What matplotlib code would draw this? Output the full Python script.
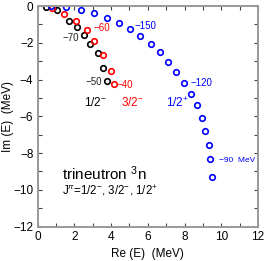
"""
Trineutron resonance trajectories (Re E vs Im E)
"""

import matplotlib.pyplot as plt
from matplotlib.ticker import MultipleLocator

plt.rcParams['font.family'] = ['Liberation Sans', 'DejaVu Sans']
plt.rcParams['mathtext.fontset'] = 'custom'
plt.rcParams['mathtext.rm'] = 'Liberation Sans'
plt.rcParams['mathtext.it'] = 'Liberation Sans:italic'

# 1/2- (black)
re_half_m = [0.46, 1.08, 1.73, 2.14, 2.52, 2.88, 3.31, 3.57, 3.79]
im_half_m = [-0.07, -0.22, -0.80, -1.16, -1.58, -2.09, -2.58, -3.36, -4.09]

# 3/2- (red)
re_three_m = [0.81, 1.46, 2.10, 2.68, 3.10, 3.57, 4.01, 4.17]
im_three_m = [-0.13, -0.45, -0.80, -1.31, -1.89, -2.67, -3.53, -4.27]

# 1/2+ (blue)
re_half_p = [0.74, 1.55, 2.35, 3.08, 3.80, 4.44, 5.04, 5.60, 6.17, 6.66,
             7.11, 7.55, 7.96, 8.34, 8.66, 8.93, 9.13, 9.31, 9.40, 9.49]
im_half_p = [0.0, -0.07, -0.22, -0.40, -0.64, -0.94, -1.27, -1.63, -2.07, -2.52,
             -3.07, -3.61, -4.21, -4.81, -5.36, -6.07, -6.80, -7.54, -8.34, -9.30]

fig = plt.figure(figsize=(2.66, 2.61), dpi=100)
ax = fig.add_axes([0.141, 0.132, 0.829, 0.845])

ms = 4.0
ax.plot(re_half_m, im_half_m, 'o', mfc='none', mec='black', ms=ms, mew=1.2)
ax.plot(re_three_m, im_three_m, 'o', mfc='none', mec='red', ms=ms, mew=1.2)
ax.plot(re_half_p, im_half_p, 'o', mfc='none', mec='blue', ms=ms, mew=1.2)

fs = 7
ax.text(2.26, -1.73, '\u221270', color='#222222', fontsize=fs, ha='right', va='center')
ax.text(3.05, -1.22, '\u221260', color='red', fontsize=fs, ha='left', va='center')
ax.text(3.50, -4.16, '\u221250', color='#222222', fontsize=fs, ha='right', va='center')
ax.text(4.30, -4.31, '\u221240', color='red', fontsize=fs, ha='left', va='center')
ax.text(5.26, -1.09, '\u2212150', color='blue', fontsize=fs, ha='left', va='center')
ax.text(8.35, -4.18, '\u2212120', color='blue', fontsize=fs, ha='left', va='center')
ax.text(9.89, -8.43, '\u221290  MeV', color='blue', fontsize=6, ha='left', va='center')

ax.text(2.55, -5.27, r'1/2$^{-}$', color='black', fontsize=8.5, ha='left', va='center')
ax.text(4.55, -5.27, r'3/2$^{-}$', color='red', fontsize=8.5, ha='left', va='center')
ax.text(7.0, -5.30, r'1/2$^{+}$', color='blue', fontsize=8.5, ha='left', va='center')

ax.text(1.31, -9.1, r'trineutron $^{3}$n', fontsize=11, ha='left', va='center')
ax.text(1.31, -10.05, r'J$^{\pi}$=1/2$^{-}$, 3/2$^{-}$, 1/2$^{+}$', fontsize=8.3,
        ha='left', va='center')

ax.set_xlim(0, 12)
ax.set_ylim(-12, 0)
ax.xaxis.set_major_locator(MultipleLocator(2))
ax.xaxis.set_minor_locator(MultipleLocator(1))
ax.yaxis.set_major_locator(MultipleLocator(2))
ax.yaxis.set_minor_locator(MultipleLocator(1))
ax.tick_params(which='both', direction='in', top=True, right=True,
               labelsize=8.5, color='#444444', width=0.8)
ax.tick_params(which='major', length=3)
ax.tick_params(which='minor', length=3)
ax.tick_params(axis='y', pad=3)
for s in ax.spines.values():
    s.set_color('#999999')
    s.set_linewidth(1.4)

ax.set_xlabel('Re (E)  (MeV)', fontsize=8.5, labelpad=3)
ax.set_ylabel('Im (E)  (MeV)', fontsize=8.5)
ax.yaxis.set_label_coords(-0.105, 0.5)

fig.savefig('out.png', dpi=100)
